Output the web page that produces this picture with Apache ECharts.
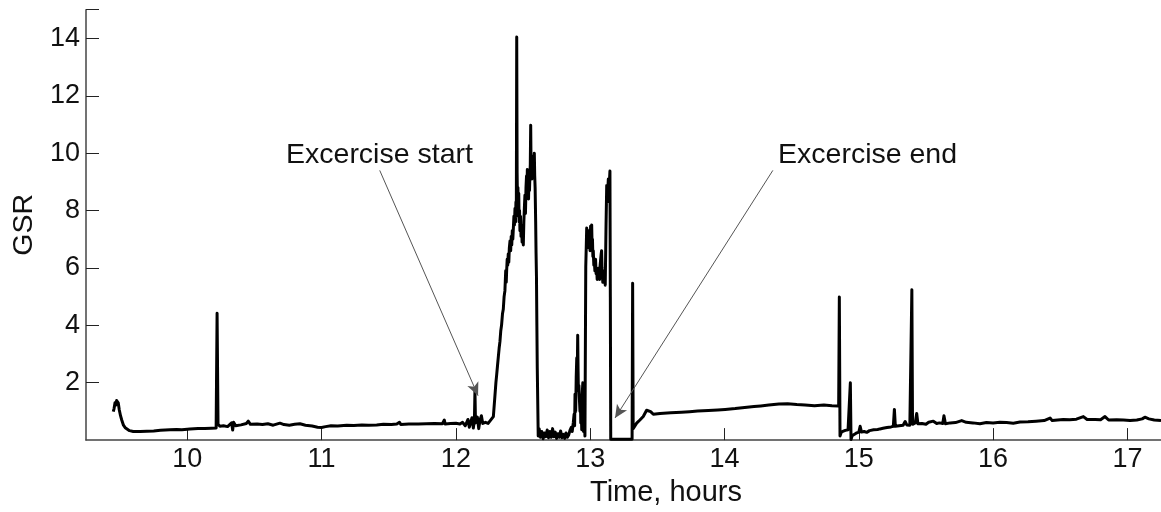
<!DOCTYPE html>
<html>
<head>
<meta charset="utf-8">
<script src="https://cdn.jsdelivr.net/npm/echarts@6/dist/echarts.min.js"></script>
<style>
html,body{margin:0;padding:0;background:#fff;}
#chart{width:1161px;height:512px;}
</style>
</head>
<body>
<div id="chart"></div>
<script>
// [time in hours, GSR] samples, split by phase
var morningRest = [
[9.449,0.99],[9.455,1.10],[9.462,1.30],[9.468,1.22],[9.474,1.38],[9.479,1.44],[9.486,1.30],[9.494,1.05],[9.503,0.85],[9.512,0.70],
[9.525,0.52],[9.538,0.43],[9.549,0.39],[9.570,0.33],[9.598,0.30],[9.650,0.30],[9.698,0.31],[9.750,0.32],[9.800,0.34],[9.871,0.36],
[9.920,0.37],[9.960,0.36],[10.02,0.39],[10.08,0.40],[10.13,0.40],[10.18,0.41],[10.215,0.42],[10.222,4.42],[10.229,0.55],[10.243,0.48],
[10.27,0.50],[10.30,0.47],[10.33,0.60],[10.338,0.35],[10.345,0.62],[10.36,0.50],[10.40,0.53],[10.44,0.58],[10.454,0.66],[10.47,0.55],
[10.52,0.56],[10.56,0.54],[10.60,0.57],[10.64,0.52],[10.69,0.59],[10.72,0.54],[10.76,0.52],[10.80,0.55],[10.839,0.57],[10.88,0.52],
[10.93,0.49],[10.97,0.45],[11.00,0.44],[11.03,0.47],[11.07,0.50],[11.12,0.49],[11.187,0.52],[11.24,0.51],[11.30,0.53],[11.35,0.52],
[11.41,0.53],[11.46,0.55],[11.52,0.54],[11.56,0.56],[11.58,0.62],[11.59,0.54],[11.65,0.56],[11.72,0.56],[11.78,0.57],[11.84,0.58],
[11.90,0.57],[11.914,0.70],[11.92,0.56],[11.96,0.58],[12.00,0.59],[12.03,0.56],[12.05,0.62],[12.07,0.50],[12.09,0.72],[12.10,0.45],
[12.12,0.78],[12.13,0.42],[12.138,0.70],[12.142,1.72],[12.146,0.60],[12.16,0.80],[12.17,0.40],[12.18,0.70],[12.19,0.85],[12.20,0.58],
[12.22,0.62],[12.24,0.58],[12.254,0.59]
];
var firstBurst = [
[12.279,0.82],[12.29,1.50],[12.298,2.00],[12.304,2.29],[12.31,2.60],[12.316,2.90],[12.322,3.20],[12.328,3.43],[12.334,3.80],[12.34,4.00],
[12.347,4.40],[12.353,4.56],[12.359,5.00],[12.365,5.20],[12.371,5.90],[12.375,5.50],[12.378,5.90],[12.382,6.30],[12.386,6.10],[12.39,6.49],
[12.394,6.20],[12.398,6.70],[12.403,6.94],[12.408,6.60],[12.412,7.10],[12.416,6.80],[12.42,7.30],[12.424,7.00],[12.428,7.39],[12.432,7.80],
[12.436,7.50],[12.44,8.07],[12.444,7.60],[12.447,8.30],[12.450,7.80],[12.453,14.05],[12.456,9.30],[12.459,8.20],[12.462,8.80],[12.465,8.00],
[12.468,8.60],[12.471,7.60],[12.474,8.00],[12.477,7.30],[12.481,7.80],[12.485,7.10],[12.489,7.50],[12.493,6.90],[12.497,7.20],[12.502,6.80],
[12.506,7.60],[12.51,8.10],[12.514,8.53],[12.518,7.90],[12.522,8.80],[12.526,9.20],[12.529,8.60],[12.532,9.43],[12.535,8.50],[12.538,9.00],
[12.541,8.40],[12.545,9.30],[12.548,8.70],[12.551,9.20],[12.554,9.60],[12.557,10.97],[12.56,9.40],[12.563,9.80],[12.566,9.10],[12.57,9.70],
[12.574,9.30],[12.578,9.90],[12.581,9.50],[12.584,10.00],[12.587,9.20],[12.59,8.80],[12.594,7.62],[12.597,6.50],[12.60,5.69],[12.603,4.00],
[12.606,2.50],[12.613,0.14]
];
var midPause = [
[12.62,0.40],[12.63,0.10],[12.64,0.30],[12.65,0.05],[12.66,0.25],[12.67,0.12],[12.68,0.35],[12.69,0.08],[12.70,0.30],[12.71,0.10],
[12.72,0.40],[12.73,0.12],[12.74,0.28],[12.75,0.06],[12.76,0.22],[12.77,0.10],[12.78,0.32],[12.79,0.08],[12.80,0.20],[12.81,0.06],
[12.82,0.25],[12.83,0.10],[12.84,0.18],[12.85,0.35],[12.86,0.45],[12.866,0.30],[12.874,0.60],[12.88,0.90],[12.884,0.50],[12.887,1.60],
[12.892,1.00],[12.896,2.20],[12.90,2.86],[12.903,2.00],[12.907,3.65],[12.91,2.40],[12.912,1.72],[12.916,1.90],[12.92,1.40],[12.924,1.00],
[12.927,1.50],[12.93,0.60],[12.934,1.00],[12.937,0.36],[12.941,1.60],[12.945,2.00],[12.948,0.80],[12.95,0.30],[12.953,1.50],[12.955,1.20],
[12.958,0.50],[12.961,0.14]
];
var secondBurst = [
[12.967,6.03],[12.971,6.80],[12.974,7.39],[12.977,6.90],[12.98,7.20],[12.984,6.80],[12.987,7.30],[12.991,6.70],[12.995,7.00],[12.999,6.60],
[13.003,7.45],[13.007,7.00],[13.011,7.50],[13.014,6.80],[13.017,7.00],[13.02,6.40],[13.023,6.60],[13.027,6.10],[13.03,6.30],[13.035,5.90],
[13.04,6.30],[13.044,5.80],[13.048,6.00],[13.052,5.60],[13.055,5.90],[13.06,5.70],[13.065,6.00],[13.07,5.60],[13.074,6.10],[13.078,6.30],
[13.082,6.50],[13.085,6.60],[13.088,6.00],[13.09,5.80],[13.094,5.50],[13.098,5.70],[13.10,5.50],[13.104,5.90],[13.108,5.70],[13.112,5.40],
[13.115,5.35],[13.118,7.50],[13.123,8.87],[13.127,8.30],[13.13,8.60],[13.135,9.10],[13.14,8.70],[13.147,9.38],[13.150,5.00],[13.153,0.03],
[13.20,0.03],[13.25,0.03],[13.312,0.03],[13.316,5.47],[13.32,0.40]
];
var recovery = [
[13.33,0.40],[13.346,0.59],[13.37,0.70],[13.395,0.82],[13.42,1.04],[13.43,1.08],[13.45,0.99],[13.47,0.90],[13.52,0.93],[13.60,0.95],
[13.68,0.97],[13.74,0.99],[13.80,1.01],[13.88,1.03],[13.95,1.05],[14.005,1.07],[14.08,1.10],[14.15,1.14],[14.22,1.17],[14.27,1.19],
[14.33,1.22],[14.405,1.26],[14.47,1.27],[14.538,1.24],[14.60,1.22],[14.67,1.20],[14.74,1.22],[14.80,1.20],[14.85,1.19],[14.855,4.99],
[14.86,0.14],[14.87,0.28],[14.885,0.31],[14.90,0.34],[14.92,0.36],[14.932,0.30],[14.937,2.00],[14.942,0.02],[14.95,0.15],[14.96,0.19],
[14.98,0.24]
];
var eveningRest = [
[15.00,0.28],[15.01,0.48],[15.02,0.28],[15.04,0.30],[15.059,0.27],[15.08,0.33],[15.11,0.36],[15.14,0.37],[15.158,0.39],[15.18,0.41],
[15.21,0.44],[15.24,0.46],[15.257,0.48],[15.265,1.07],[15.272,0.48],[15.30,0.50],[15.33,0.52],[15.345,0.65],[15.357,0.53],[15.38,0.52],
[15.395,5.24],[15.40,0.55],[15.42,0.60],[15.431,0.93],[15.44,0.57],[15.47,0.58],[15.50,0.55],[15.52,0.62],[15.555,0.66],[15.58,0.58],
[15.60,0.60],[15.625,0.58],[15.634,0.85],[15.645,0.57],[15.68,0.60],[15.72,0.61],[15.766,0.68],[15.80,0.62],[15.85,0.60],[15.902,0.57],
[15.95,0.61],[16.00,0.60],[16.05,0.62],[16.10,0.61],[16.15,0.59],[16.20,0.63],[16.26,0.64],[16.32,0.66],[16.38,0.68],[16.424,0.77],
[16.44,0.68],[16.48,0.70],[16.523,0.72],[16.57,0.71],[16.62,0.73],[16.672,0.82],[16.70,0.72],[16.76,0.72],[16.80,0.71],[16.833,0.82],
[16.86,0.70],[16.92,0.71],[16.97,0.70],[17.02,0.68],[17.07,0.70],[17.11,0.74],[17.13,0.80],[17.16,0.74],[17.20,0.70],[17.25,0.68]
];
var yTicks = [2, 4, 6, 8, 10, 12, 14];
var xTicks = [10, 11, 12, 13, 14, 15, 16, 17];
var annotations = ['Excercise start', 'Excercise end'];

var seriesData = [].concat(morningRest, firstBurst, midPause, secondBurst, recovery, eveningRest);
var FONT = 'Liberation Sans, Arial, sans-serif';

var chart = echarts.init(document.getElementById('chart'), null, {renderer: 'canvas'});
chart.setOption({
  animation: false,
  backgroundColor: '#ffffff',
  grid: {left: 86, right: 0, top: 9.7, bottom: 61.3, containLabel: false},
  xAxis: {
    type: 'value',
    min: 9.246,
    max: 17.25,
    splitNumber: 8,
    name: 'Time, hours',
    nameLocation: 'middle',
    nameGap: 35,
    nameTextStyle: {fontFamily: FONT, fontSize: 29, color: '#111', padding: [0, 0, 0, 85]},
    axisLine: {show: true, lineStyle: {color: '#444', width: 1.5}},
    axisTick: {show: true, inside: true, length: 12, lineStyle: {color: '#222', width: 1}},
    axisLabel: {
      fontFamily: FONT, fontSize: 27, color: '#111', margin: 6,
      showMinLabel: false, showMaxLabel: false,
      formatter: function (v) { return xTicks.indexOf(Math.round(v * 1000) / 1000) >= 0 ? String(v) : ''; }
    },
    splitLine: {show: false}
  },
  yAxis: {
    type: 'value',
    min: 0,
    max: 15,
    interval: 2,
    name: 'GSR',
    nameLocation: 'middle',
    nameGap: 42,
    nameTextStyle: {fontFamily: FONT, fontSize: 28.5, color: '#111'},
    axisLine: {show: true, lineStyle: {color: '#444', width: 1.5}},
    axisTick: {show: true, inside: true, length: 13, lineStyle: {color: '#222', width: 1}},
    axisLabel: {
      fontFamily: FONT, fontSize: 27, color: '#111', margin: 6,
      showMinLabel: false,
      formatter: function (v) { return yTicks.indexOf(v) >= 0 ? String(v) : ''; }
    },
    splitLine: {show: false}
  },
  series: [{
    type: 'line',
    data: seriesData,
    showSymbol: false,
    symbol: 'none',
    sampling: null,
    lineStyle: {color: '#000', width: 3, join: 'round'},
    silent: true,
    markLine: {
      silent: true,
      animation: false,
      symbol: ['none', 'arrow'],
      symbolSize: [9, 13],
      label: {show: false},
      lineStyle: {color: '#555', width: 1, type: 'solid'},
      emphasis: {disabled: true},
      data: [
        [{coord: [11.433, 9.40], symbol: 'none'}, {coord: [12.165, 1.55], symbol: 'arrow', itemStyle: {color: '#111'}}],
        [{coord: [14.36, 9.40], symbol: 'none'}, {coord: [13.185, 0.77], symbol: 'arrow', itemStyle: {color: '#111'}}]
      ]
    },
    markPoint: {
      silent: true,
      animation: false,
      symbol: 'rect',
      symbolSize: 1,
      itemStyle: {color: 'rgba(0,0,0,0)'},
      label: {show: true, position: 'inside', fontFamily: FONT, fontSize: 28.5, color: '#111'},
      data: [
        {coord: [11.431, 9.93], label: {formatter: annotations[0]}},
        {coord: [15.065, 9.93], label: {formatter: annotations[1]}}
      ]
    }
  }]
});
</script>
</body>
</html>
